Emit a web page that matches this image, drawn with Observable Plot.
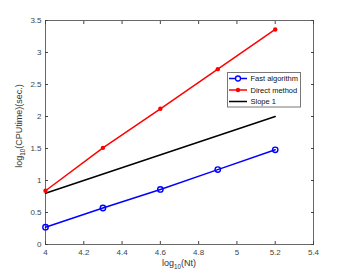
<!DOCTYPE html>
<html><head><meta charset="utf-8">
<script src="https://cdn.jsdelivr.net/npm/d3@7"></script>
<script src="https://cdn.jsdelivr.net/npm/@observablehq/plot@0.6"></script>
<style>body{margin:0;background:#fff;} #chart svg{display:block;}</style>
</head><body><div id="chart"></div>
<script>
// ---- data ----
const logNt = [4, 4.3, 4.6, 4.9, 5.2];
const fastAlgorithm = [0.27, 0.57, 0.86, 1.17, 1.48];
const directMethod = [0.84, 1.51, 2.12, 2.74, 3.36];
const slopeX = [4, 5.2];
const slopeY = [0.8, 2.0];
const xTicks = [4, 4.2, 4.4, 4.6, 4.8, 5, 5.2, 5.4];
const yTicks = [0, 0.5, 1, 1.5, 2, 2.5, 3, 3.5];
const seriesNames = ["Fast algorithm", "Direct method", "Slope 1"];
const seriesColors = ["#0000ff", "#ff0000", "#000000"];
const xLabel = ["log", "10", "(Nt)"];
const yLabel = ["log", "10", "(CPUtime)(sec.)"];

const fast = logNt.map((x, i) => ({x, y: fastAlgorithm[i]}));
const direct = logNt.map((x, i) => ({x, y: directMethod[i]}));
const slope = slopeX.map((x, i) => ({x, y: slopeY[i]}));

const W = 346, H = 277, mL = 45, mR = 33, mT = 20, mB = 33;
const axisColor = "#444";

const plot = Plot.plot({
  width: W, height: H,
  marginLeft: mL, marginRight: mR, marginTop: mT, marginBottom: mB,
  style: {fontFamily: "'Liberation Sans', Arial, sans-serif", fontSize: "8px", background: "#fff", overflow: "visible"},
  x: {domain: [4, 5.4]},
  y: {domain: [0, 3.5]},
  marks: [
    // inward ticks on all four sides
    Plot.axisX(xTicks, {anchor: "bottom", tickSize: 3, dy: -3, fill: "none", stroke: axisColor, label: null}),
    Plot.axisX(xTicks, {anchor: "top", tickSize: 3, dy: 3, fill: "none", stroke: axisColor, label: null}),
    Plot.axisY(yTicks, {anchor: "left", tickSize: 3, dx: 3, fill: "none", stroke: axisColor, label: null}),
    Plot.axisY(yTicks, {anchor: "right", tickSize: 3, dx: -3, fill: "none", stroke: axisColor, label: null}),
    // tick labels
    Plot.axisX(xTicks, {anchor: "bottom", tickSize: 0, tickPadding: 5, fill: axisColor, tickFormat: d => String(d), label: null}),
    Plot.axisY(yTicks, {anchor: "left", tickSize: 0, tickPadding: 4, fill: axisColor, tickFormat: d => String(d), label: null}),
    Plot.frame({stroke: axisColor, strokeWidth: 0.8}),
    Plot.line(slope, {x: "x", y: "y", stroke: seriesColors[2], strokeWidth: 1.5}),
    Plot.line(fast, {x: "x", y: "y", stroke: seriesColors[0], strokeWidth: 1.5}),
    Plot.dot(fast, {x: "x", y: "y", r: 2.7, stroke: seriesColors[0], strokeWidth: 1.4, fill: "none"}),
    Plot.line(direct, {x: "x", y: "y", stroke: seriesColors[1], strokeWidth: 1.5}),
    Plot.dot(direct, {x: "x", y: "y", r: 2.2, fill: seriesColors[1], stroke: "none"})
  ]
});
document.getElementById("chart").appendChild(plot);

const svg = d3.select(plot);
const font = "'Liberation Sans', Arial, sans-serif";

// axis labels with subscripts
function subLabel(g, parts) {
  g.append("tspan").text(parts[0]);
  g.append("tspan").attr("font-size", 6.3).attr("dy", 2.5).text(parts[1]);
  g.append("tspan").attr("dy", -2.5).text(parts[2]);
}
const xl = svg.append("text").attr("x", 179).attr("y", 266)
  .attr("text-anchor", "middle").attr("font-family", font).attr("font-size", 9).attr("fill", "#333");
subLabel(xl, xLabel);
const yl = svg.append("text").attr("transform", `translate(22,126) rotate(-90)`)
  .attr("text-anchor", "middle").attr("font-family", font).attr("font-size", 9).attr("fill", "#333");
subLabel(yl, yLabel);

// legend
const lg = svg.append("g").attr("font-family", font).attr("font-size", 7.5).attr("text-anchor", "start");
lg.append("rect").attr("x", 227.5).attr("y", 72.5).attr("width", 73).attr("height", 34.5)
  .attr("fill", "#fff").attr("stroke", "#777").attr("stroke-width", 1);
seriesNames.forEach((name, i) => {
  const yy = 78.5 + i * 11.5;
  lg.append("line").attr("x1", 229).attr("x2", 247).attr("y1", yy).attr("y2", yy)
    .attr("stroke", seriesColors[i]).attr("stroke-width", 1.5);
  if (i === 0) lg.append("circle").attr("cx", 238).attr("cy", yy).attr("r", 2.5)
    .attr("fill", "#fff").attr("stroke", seriesColors[i]).attr("stroke-width", 1.3);
  if (i === 1) lg.append("circle").attr("cx", 238).attr("cy", yy).attr("r", 2.2)
    .attr("fill", seriesColors[i]);
  lg.append("text").attr("x", 250.5).attr("y", yy).attr("dy", "0.35em").attr("fill", "#111").text(name);
});
</script>
</body></html>
